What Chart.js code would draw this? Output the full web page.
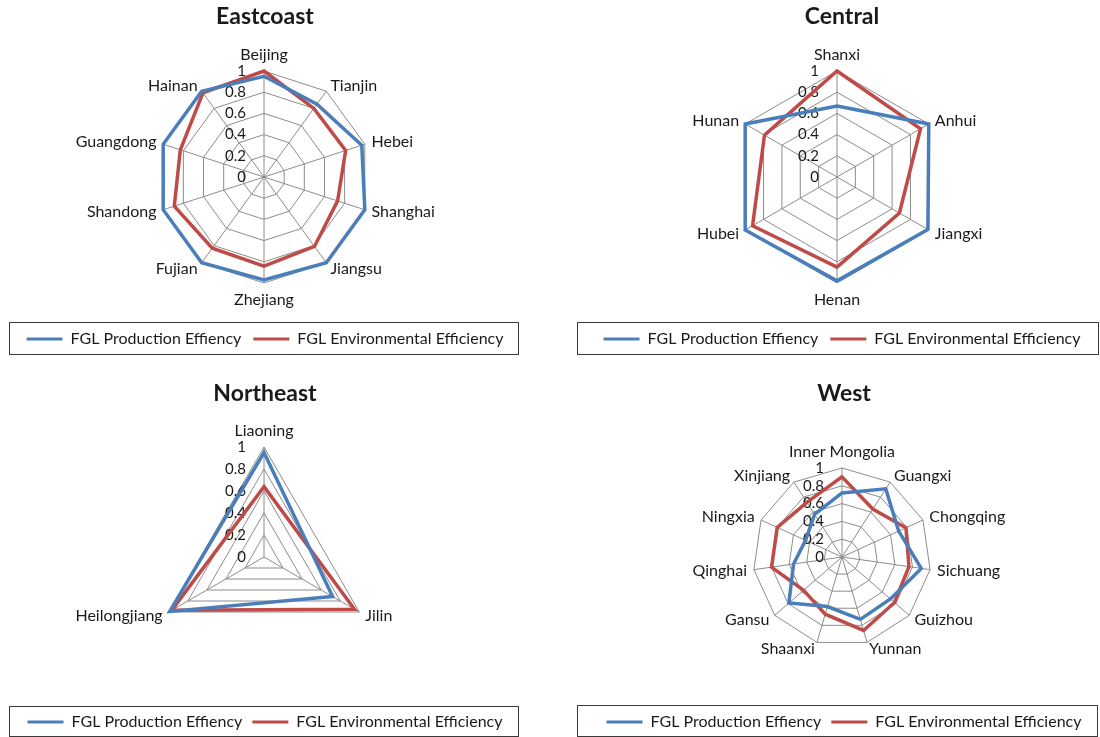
<!DOCTYPE html>
<html><head><meta charset="utf-8">
<script src="https://cdn.jsdelivr.net/npm/chart.js@4.4.0/dist/chart.umd.min.js"></script>
<style>
html,body{margin:0;padding:0;background:#fff}
body{width:1100px;height:737px;overflow:hidden;position:relative}
.p{position:absolute}
</style></head><body>
<div class="p" style="left:0;top:0;width:550px;height:358px"><canvas id="c1"></canvas></div>
<div class="p" style="left:550px;top:0;width:550px;height:358px"><canvas id="c2"></canvas></div>
<div class="p" style="left:0;top:377px;width:550px;height:363px"><canvas id="c3"></canvas></div>
<div class="p" style="left:550px;top:377px;width:550px;height:363px"><canvas id="c4"></canvas></div>
<script>
// ---- data ----
const seriesNames = ['FGL Production Effiency', 'FGL Environmental Efficiency'];
const tickLabels = ['0', '0.2', '0.4', '0.6', '0.8', '1'];

const eastTitle = 'Eastcoast';
const eastLabels = ['Beijing','Tianjin','Hebei','Shanghai','Jiangsu','Zhejiang','Fujian','Shandong','Guangdong','Hainan'];
const eastProd = [0.95, 0.85, 0.97, 1.00, 1.00, 0.97, 1.00, 1.00, 1.00, 1.00];
const eastEnv  = [1.00, 0.80, 0.81, 0.73, 0.81, 0.84, 0.83, 0.89, 0.83, 0.98];

const centralTitle = 'Central';
const centralLabels = ['Shanxi','Anhui','Jiangxi','Henan','Hubei','Hunan'];
const centralProd = [0.67, 1.00, 0.99, 0.98, 1.00, 1.00];
const centralEnv  = [1.00, 0.91, 0.68, 0.85, 0.92, 0.79];

const neTitle = 'Northeast';
const neLabels = ['Liaoning','Jilin','Heilongjiang'];
const neProd = [0.95, 0.72, 0.99];
const neEnv  = [0.64, 0.95, 0.97];

const westTitle = 'West';
const westLabels = ['Inner Mongolia','Guangxi','Chongqing','Sichuang','Guizhou','Yunnan','Shaanxi','Gansu','Qinghai','Ningxia','Xinjiang'];
const westProd = [0.72, 0.91, 0.70, 0.90, 0.72, 0.73, 0.58, 0.79, 0.55, 0.45, 0.57];
const westEnv  = [0.90, 0.64, 0.79, 0.76, 0.78, 0.86, 0.67, 0.57, 0.80, 0.80, 0.73];

// ---- styles ----
const BLUE = '#4A7EBB';
const RED = '#BE4B48';
const FONT = 'Lato';
const TEXT = '#1a1a1a';

// place the radial scale at a fixed centre / radius, and centre side labels vertically on their spoke
const placePlugin = {
  id: 'place',
  afterLayout(chart, args, o) {
    const s = chart.scales.r;
    const ox = s.xCenter, oy = s.yCenter, or = s.drawingArea;
    s.xCenter = o.cx; s.yCenter = o.cy; s.drawingArea = o.r;
    (s._pointLabelItems || []).forEach((it, i) => {
      const a = s.getIndexAngle(i) - Math.PI / 2;
      const dx = (o.cx + o.r * Math.cos(a)) - (ox + or * Math.cos(a));
      let dy = (o.cy + o.r * Math.sin(a)) - (oy + or * Math.sin(a));
      if (it.textAlign !== 'center') {
        const h = it.bottom - it.top;
        const deg = (s.getIndexAngle(i) * 180 / Math.PI) % 360;
        if (Math.abs(deg - 90) > 0.5 && Math.abs(deg - 270) > 0.5) {
          dy += (deg < 90 || deg > 270) ? h / 2 : -h / 2;
        }
      }
      it.x += dx; it.left += dx; it.right += dx;
      it.y += dy; it.top += dy; it.bottom += dy;
    });
  }
};

const tickPlugin = {
  id: 'leftTicks',
  beforeDatasetsDraw(chart) {
    const s = chart.scales.r, ctx = chart.ctx;
    ctx.save();
    ctx.font = '15px ' + FONT;
    ctx.fillStyle = TEXT;
    ctx.textAlign = 'right';
    ctx.textBaseline = 'middle';
    tickLabels.forEach(t => {
      const d = s.getDistanceFromCenterForValue(parseFloat(t));
      ctx.fillText(t, s.xCenter - 18, s.yCenter - d);
    });
    ctx.restore();
  }
};

const boxPlugin = {
  id: 'legendBox',
  afterDraw(chart, args, o) {
    const ctx = chart.ctx;
    ctx.save();
    ctx.strokeStyle = '#3a3a3a';
    ctx.lineWidth = 1;
    ctx.strokeRect(o.x + 0.5, o.y + 0.5, o.w, o.h);
    ctx.restore();
  }
};

function makeChart(id, title, labels, prod, env, lay) {
  return new Chart(document.getElementById(id), {
    type: 'radar',
    data: {
      labels: labels,
      datasets: [
        { label: seriesNames[0], data: prod, borderColor: BLUE, backgroundColor: BLUE, fill: false },
        { label: seriesNames[1], data: env, borderColor: RED, backgroundColor: RED, fill: false }
      ]
    },
    options: {
      responsive: true,
      maintainAspectRatio: false,
      animation: false,
      layout: { padding: lay.padding },
      elements: {
        line: { borderWidth: 3.5, tension: 0, borderJoinStyle: 'miter' },
        point: { radius: 0, hoverRadius: 0 }
      },
      scales: {
        r: {
          min: 0, max: 1,
          ticks: { stepSize: 0.2, display: false },
          grid: { color: '#8c8c8c', lineWidth: 1 },
          angleLines: { color: '#8c8c8c', lineWidth: 1 },
          pointLabels: { font: { family: FONT, size: 16 }, color: TEXT, padding: 7 }
        }
      },
      plugins: {
        title: { display: true, text: title, font: { family: FONT, size: 23, weight: 'bold' }, color: TEXT, padding: { top: lay.titleTop, bottom: 8 } },
        legend: {
          position: 'bottom',
          labels: {
            font: { family: FONT, size: 16 }, color: TEXT, boxWidth: 36, boxHeight: 3, padding: lay.legendPad,
            generateLabels(chart) {
              return Chart.defaults.plugins.legend.labels.generateLabels(chart).map(l => Object.assign(l, { lineWidth: 0 }));
            }
          }
        },
        tooltip: { enabled: false },
        place: lay.place,
        legendBox: lay.box
      }
    },
    plugins: [placePlugin, tickPlugin, boxPlugin]
  });
}

makeChart('c1', eastTitle, eastLabels, eastProd, eastEnv,
  { padding: { left: 0, right: 20, top: 0, bottom: 1 }, titleTop: 3, legendPad: 12, place: { cx: 264, cy: 177, r: 106 }, box: { x: 9, y: 322, w: 509, h: 32 } });
makeChart('c2', centralTitle, centralLabels, centralProd, centralEnv,
  { padding: { left: 34, right: 0, top: 0, bottom: 1 }, titleTop: 3, legendPad: 12, place: { cx: 287, cy: 177, r: 106 }, box: { x: 27, y: 322, w: 521, h: 32 } });
makeChart('c3', neTitle, neLabels, neProd, neEnv,
  { padding: { left: 0, right: 20, top: 0, bottom: 0 }, titleTop: 3, legendPad: 10, place: { cx: 264, cy: 180, r: 110 }, box: { x: 9, y: 329, w: 509, h: 30 } });
makeChart('c4', westTitle, westLabels, westProd, westEnv,
  { padding: { left: 38, right: 0, top: 0, bottom: 0 }, titleTop: 3, legendPad: 10, place: { cx: 292, cy: 180, r: 89 }, box: { x: 27, y: 328, w: 520, h: 31 } });
</script>
</body></html>
